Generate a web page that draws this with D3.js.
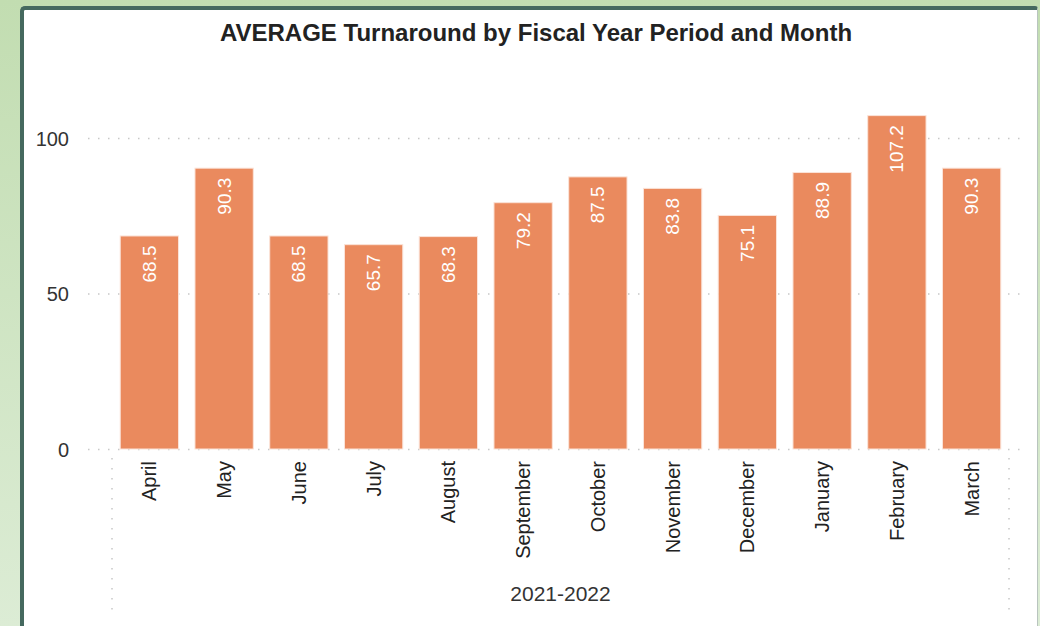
<!DOCTYPE html>
<html>
<head>
<meta charset="utf-8">
<script src="https://cdn.jsdelivr.net/npm/d3@7"></script>
<style>
  html, body { margin: 0; padding: 0; }
  body { width: 1040px; height: 626px; overflow: hidden;
         background: linear-gradient(#c2ddb1, #dcecd5); }
  #panel { position: absolute; left: 20px; top: 6px; width: 1018px; height: 640px;
           background: #fff; border: 4px solid #45695f; border-right: 1px solid #b9c4bf;
           border-radius: 5px 3px 0 0; box-sizing: border-box; }
  #chart { position: absolute; left: 0; top: 0; }
</style>
</head>
<body>
<div id="panel"></div>
<div id="chart"></div>
<script>
var months = ["April", "May", "June", "July", "August", "September", "October",
              "November", "December", "January", "February", "March"];
var turnaround = [68.5, 90.3, 68.5, 65.7, 68.3, 79.2, 87.5, 83.8, 75.1, 88.9, 107.2, 90.3];
var yTicks = [0, 50, 100];
var period = "2021-2022";

var data = months.map(function (m, i) { return {month: m, value: turnaround[i]}; });

var font = "Liberation Sans, Arial, sans-serif";

var svg = d3.select("#chart")
    .append("svg")
    .attr("width", 1040)
    .attr("height", 626);

svg.append("text")
    .attr("x", 536)
    .attr("y", 41)
    .attr("text-anchor", "middle")
    .style("font-family", font)
    .style("font-weight", "bold")
    .style("font-size", "24px")
    .style("fill", "#222")
    .text("AVERAGE Turnaround by Fiscal Year Period and Month");

var x = d3.scaleBand()
    .domain(months)
    .range([112, 1009])
    .paddingInner(0.22)
    .paddingOuter(0.11);

var y = d3.scaleLinear()
    .domain([0, 100])
    .range([449, 138]);

// gridlines
svg.append("g")
    .selectAll("line")
    .data(yTicks)
    .enter()
    .append("line")
    .attr("x1", 88)
    .attr("x2", 1023)
    .attr("y1", function (d) { return y(d) + 0.5; })
    .attr("y2", function (d) { return y(d) + 0.5; })
    .style("stroke", "#c8c8c8")
    .style("stroke-width", 1.5)
    .style("stroke-dasharray", "1.5,8.5");

// y tick labels
svg.append("g")
    .selectAll("text")
    .data(yTicks)
    .enter()
    .append("text")
    .attr("x", 69)
    .attr("y", function (d) { return y(d) + 7.5; })
    .attr("text-anchor", "end")
    .style("font-family", font)
    .style("font-size", "20px")
    .style("fill", "#333")
    .text(function (d) { return d; });

// group separators
svg.append("g")
    .selectAll("line")
    .data(x.range())
    .enter()
    .append("line")
    .attr("x1", function (d) { return d; })
    .attr("x2", function (d) { return d; })
    .attr("y1", 458)
    .attr("y2", 610)
    .style("stroke", "#c8c8c8")
    .style("stroke-width", 1.5)
    .style("stroke-dasharray", "1.5,8.5");

// bars
svg.append("g")
    .selectAll("rect")
    .data(data)
    .enter()
    .append("rect")
    .attr("x", function (d) { return x(d.month); })
    .attr("y", function (d) { return y(d.value); })
    .attr("width", x.bandwidth())
    .attr("height", function (d) { return y(0) - y(d.value); })
    .style("fill", "#ea8a5e")
    .style("stroke", "#fbe3d8")
    .style("stroke-width", 1);

// value labels
svg.append("g")
    .selectAll("text")
    .data(data)
    .enter()
    .append("text")
    .attr("transform", function (d) {
        return "translate(" + (x(d.month) + x.bandwidth() / 2 + 6.5) + "," + (y(d.value) + 9.5) + ") rotate(-90)";
    })
    .attr("text-anchor", "end")
    .style("font-family", font)
    .style("font-size", "19px")
    .style("fill", "#fff")
    .text(function (d) { return d.value.toFixed(1); });

// month labels
svg.append("g")
    .selectAll("text")
    .data(months)
    .enter()
    .append("text")
    .attr("transform", function (d) {
        return "translate(" + (x(d) + x.bandwidth() / 2 + 7) + ",461) rotate(-90)";
    })
    .attr("text-anchor", "end")
    .style("font-family", font)
    .style("font-size", "20px")
    .style("fill", "#222")
    .text(function (d) { return d; });

svg.append("text")
    .attr("x", (x.range()[0] + x.range()[1]) / 2)
    .attr("y", 601)
    .attr("text-anchor", "middle")
    .style("font-family", font)
    .style("font-size", "21px")
    .style("fill", "#333")
    .text(period);
</script>
</body>
</html>
